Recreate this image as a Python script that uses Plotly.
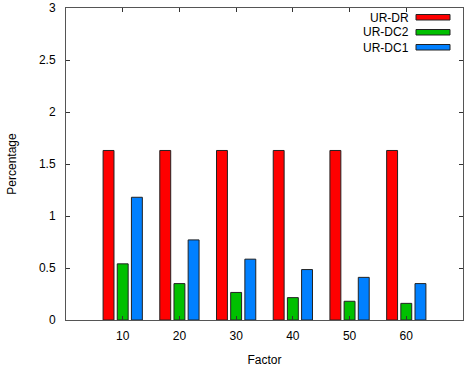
import plotly.graph_objects as go

# Data
factors = ["10", "20", "30", "40", "50", "60"]
ur_dr = [1.63, 1.63, 1.63, 1.63, 1.63, 1.63]
ur_dc2 = [0.54, 0.35, 0.265, 0.215, 0.18, 0.16]
ur_dc1 = [1.18, 0.77, 0.585, 0.485, 0.41, 0.35]

series_names = ["UR-DR", "UR-DC2", "UR-DC1"]
series_values = [ur_dr, ur_dc2, ur_dc1]
series_colors = ["#ff0000", "#00c000", "#0080ff"]

positions = list(range(len(factors)))

fig = go.Figure()
for name, vals, col in zip(series_names, series_values, series_colors):
    fig.add_trace(go.Bar(
        x=positions, y=vals, name=name,
        marker=dict(color=col, line=dict(color="#222222", width=1)),
        showlegend=False,
    ))

# Legend drawn gnuplot-style: right-aligned label followed by a swatch
for i, (name, col) in enumerate(zip(series_names, series_colors)):
    yc = 17.5 + i * 15
    fig.add_annotation(
        xref="paper", yref="paper", x=(411 - 66) / 397, y=1 - (yc - 8) / 312,
        text=name, showarrow=False, xanchor="right", yanchor="middle",
        font=dict(family="Liberation Sans, Arial", size=12, color="#000000"),
    )
    fig.add_shape(
        type="rect", xref="paper", yref="paper",
        x0=(416 - 66) / 397, x1=(450 - 66) / 397,
        y0=1 - (yc + 2.5 - 8) / 312, y1=1 - (yc - 3 - 8) / 312,
        fillcolor=col, line=dict(color="#222222", width=1),
    )

axis_font = dict(family="Liberation Sans, Arial", size=12, color="#000000")

fig.update_layout(
    width=464, height=369,
    margin=dict(l=66, r=1, t=8, b=49),
    paper_bgcolor="white", plot_bgcolor="white",
    barmode="group", bargap=0.25, bargroupgap=0.23,
    font=axis_font,
    xaxis=dict(
        range=[-1, 6], tickmode="array", tickvals=positions, ticktext=factors,
        ticks="inside", ticklen=4, tickcolor="#333333", ticklabelstandoff=5,
        showline=True, linecolor="#555555", linewidth=1, mirror="ticks",
        showgrid=False, zeroline=False,
        title=dict(text="Factor", font=axis_font, standoff=13),
    ),
    yaxis=dict(
        range=[0, 3], tickmode="array", tickvals=[0, 0.5, 1, 1.5, 2, 2.5, 3],
        ticktext=["0", "0.5", "1", "1.5", "2", "2.5", "3"],
        ticks="inside", ticklen=4, tickcolor="#333333", ticklabelstandoff=7,
        showline=True, linecolor="#555555", linewidth=1, mirror="ticks",
        showgrid=False, zeroline=False,
        title=dict(text="Percentage", font=axis_font, standoff=19),
    ),
)

fig.write_html("out.html")
